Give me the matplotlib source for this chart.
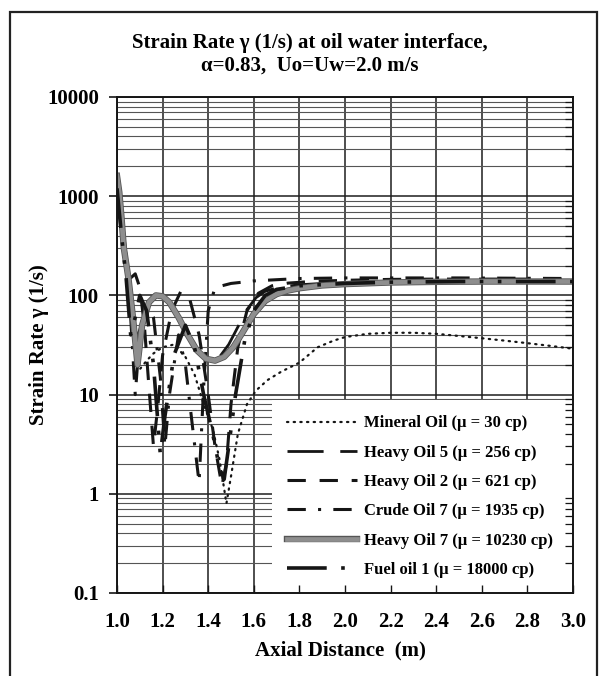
import matplotlib
matplotlib.use("Agg")
import matplotlib.pyplot as plt
import matplotlib.patheffects as pe
from matplotlib.patches import Rectangle
from matplotlib.ticker import LogLocator, FixedLocator, NullFormatter

SERIF = ["Liberation Serif", "DejaVu Serif"]
plt.rcParams["font.family"] = SERIF
plt.rcParams["font.weight"] = "bold"

# Mineral Oil (mu = 30 cp)
x_mineral = [1.0, 1.02, 1.04, 1.06, 1.08, 1.10, 1.13, 1.16, 1.20, 1.25, 1.30, 1.34,
             1.38, 1.42, 1.45, 1.48, 1.50, 1.53, 1.57, 1.61, 1.66, 1.72, 1.80, 1.88,
             1.95, 2.0, 2.1, 2.2, 2.3, 2.4, 2.5, 2.6, 2.7, 2.8, 2.9, 3.0]
y_mineral = [1300, 600, 200, 70, 30, 18, 22, 26, 30, 32, 24, 16,
             8, 4.5, 2.2, 0.8, 1.5, 4, 8, 11, 14, 17, 21, 30,
             35, 38, 41, 42, 42, 41, 39, 37, 35, 33, 31, 29]

# Heavy Oil 5 (mu = 256 cp)
x_ho5 = [1.0, 1.02, 1.04, 1.06, 1.08, 1.10, 1.13, 1.17, 1.21, 1.25, 1.29, 1.33,
         1.37, 1.41, 1.45, 1.49, 1.53, 1.57, 1.61, 1.65, 1.70, 1.75, 1.80, 1.9,
         2.0, 2.2, 2.4, 2.6, 2.8, 3.0]
y_ho5 = [1600, 700, 250, 90, 35, 45, 80, 102, 95, 72, 48, 33,
         25, 22, 24, 32, 48, 72, 95, 110, 119, 124, 128, 132,
         135, 138, 140, 140, 140, 140]

# Heavy Oil 2 (mu = 621 cp)
x_ho2 = [1.0, 1.02, 1.04, 1.06, 1.08, 1.10, 1.12, 1.14, 1.16, 1.18, 1.20, 1.24,
         1.28, 1.32, 1.36, 1.40, 1.43, 1.46, 1.48, 1.50, 1.53, 1.57, 1.62, 1.68,
         1.75, 1.85, 2.0, 2.2, 2.4, 2.6, 2.8, 3.0]
y_ho2 = [1400, 600, 220, 150, 165, 120, 50, 12, 3, 8, 25, 70,
         110, 90, 40, 10, 3, 1.2, 2, 8, 30, 70, 105, 125,
         133, 138, 142, 145, 146, 146, 146, 146]

# Crude Oil 7 (mu = 1935 cp)
x_crude = [1.0, 1.02, 1.04, 1.06, 1.08, 1.10, 1.13, 1.16, 1.19, 1.21, 1.23, 1.27,
           1.30, 1.33, 1.36, 1.38, 1.40, 1.43, 1.5, 1.6, 1.8, 2.0, 2.5, 3.0]
y_crude = [1500, 500, 200, 60, 10, 40, 80, 60, 15, 3, 10, 40,
           20, 5, 1.3, 12, 70, 120, 132, 140, 148, 150, 150, 148]

# Heavy Oil 7 (mu = 10230 cp)
x_ho7 = [1.0, 1.01, 1.02, 1.03, 1.05, 1.07, 1.09, 1.11, 1.14, 1.17, 1.20, 1.23,
         1.27, 1.31, 1.35, 1.39, 1.43, 1.47, 1.51, 1.55, 1.60, 1.65, 1.70, 1.75,
         1.80, 1.90, 2.0, 2.2, 2.4, 2.6, 2.8, 3.0]
y_ho7 = [1600, 1100, 600, 300, 150, 60, 20, 50, 85, 100, 98, 85,
         60, 40, 28, 23, 22, 24, 30, 42, 65, 88, 103, 112,
         118, 126, 130, 135, 137, 138, 138, 138]

# Fuel oil 1 (mu = 18000 cp)
x_fuel = [1.0, 1.02, 1.04, 1.06, 1.08, 1.10, 1.13, 1.16, 1.18, 1.19, 1.21, 1.25,
          1.30, 1.34, 1.38, 1.42, 1.45, 1.47, 1.49, 1.52, 1.56, 1.60, 1.65, 1.70,
          1.80, 2.0, 2.2, 2.5, 3.0]
y_fuel = [1200, 400, 150, 40, 60, 100, 70, 20, 5, 2.5, 6, 25,
          50, 30, 10, 4, 1.8, 1.4, 3, 10, 35, 70, 100, 115,
          125, 132, 136, 138, 138]

labels = ["Mineral Oil (\u03bc = 30 cp)",
          "Heavy Oil 5 (\u03bc = 256 cp)",
          "Heavy Oil 2 (\u03bc = 621 cp)",
          "Crude Oil 7 (\u03bc = 1935 cp)",
          "Heavy Oil 7 (\u03bc = 10230 cp)",
          "Fuel oil 1 (\u03bc = 18000 cp)"]

fig = plt.figure(figsize=(6.1, 6.76), dpi=100)
pos = [117 / 610, 1 - 593 / 676, 456 / 610, 496 / 676]
ax = fig.add_axes(pos)

ink = "#151515"
ax.plot(x_mineral, y_mineral, color=ink, lw=1.6, linestyle=(0, (0.6, 2.4)),
        dash_capstyle="round", label=labels[0])
ax.plot(x_ho5, y_ho5, color=ink, lw=2.0, linestyle=(0, (13, 6)), label=labels[1])
ax.plot(x_ho2, y_ho2, color=ink, lw=2.2, linestyle=(0, (6, 4.5)), label=labels[2])
ax.plot(x_crude, y_crude, color=ink, lw=2.2, linestyle=(0, (6, 4, 1, 4)),
        label=labels[3])
ax.plot(x_ho7, y_ho7, color="#8e8e8e", lw=3.4, label=labels[4],
        path_effects=[pe.Stroke(linewidth=4.6, foreground="#555555"), pe.Normal()])
ax.plot(x_fuel, y_fuel, color=ink, lw=2.6, linestyle=(0, (11, 4, 1, 4, 1, 4)),
        label=labels[5])

ax.set_yscale("log")
ax.set_xlim(1.0, 3.0)
ax.set_ylim(0.1, 10000)
xt = [1.0 + 0.2 * i for i in range(11)]
ax.xaxis.set_major_locator(FixedLocator(xt))
ax.set_xticklabels(["%.1f" % v for v in xt])
yt = [0.1, 1, 10, 100, 1000, 10000]
ax.yaxis.set_major_locator(FixedLocator(yt))
ax.set_yticklabels(["0.1", "1", "10", "100", "1000", "10000"])
ax.yaxis.set_minor_locator(LogLocator(base=10, subs=range(2, 10)))
ax.yaxis.set_minor_formatter(NullFormatter())
ax.tick_params(which="both", length=0)
ax.tick_params(axis="x", pad=14, labelsize=15)
ax.tick_params(axis="y", pad=13, labelsize=15)
ax.grid(which="major", axis="both", color="#1e1e1e", lw=1.1)
ax.grid(which="minor", axis="y", color="#555555", lw=0.8)
for s in ax.spines.values():
    s.set_visible(False)

ax.set_xlabel("Axial Distance  (m)", fontsize=15, fontweight="bold")
ax.set_ylabel("Strain Rate \u03b3 (1/s)", fontsize=15, fontweight="bold")
ax.xaxis.set_label_coords(0.49, -0.095)
ax.yaxis.set_label_coords(-0.15, 0.5)

leg = ax.legend(loc="lower left", bbox_to_anchor=(0.34, 0.0, 0.66, 0.38),
                mode="expand", fancybox=False, framealpha=1, facecolor="white",
                edgecolor="none", borderaxespad=0, handlelength=4.2,
                handletextpad=0.4, labelspacing=0.8, borderpad=0.9,
                prop={"family": SERIF, "weight": "bold", "size": 12})
leg.set_zorder(5)

# frame and tick marks drawn on top of the legend box
top = fig.add_axes(pos, zorder=10)
top.set_yscale("log")
top.set_xlim(1.0, 3.0)
top.set_ylim(0.1, 10000)
top.patch.set_visible(False)
top.xaxis.set_major_locator(FixedLocator(xt))
top.yaxis.set_major_locator(FixedLocator(yt))
top.yaxis.set_minor_locator(LogLocator(base=10, subs=range(2, 10)))
top.tick_params(labelleft=False, labelbottom=False)
top.tick_params(axis="x", which="major", direction="in", length=6, width=1, color=ink)
top.tick_params(axis="y", which="major", direction="out", length=6, width=1.2,
                left=True, right=False, color=ink)
top.tick_params(axis="y", which="minor", direction="in", length=6, width=0.9,
                left=False, right=True, color=ink)
for s in top.spines.values():
    s.set_color(ink)
    s.set_linewidth(1.4)

fig.text(0.508, 1 - 43 / 676, "Strain Rate \u03b3 (1/s) at oil water interface,",
         ha="center", va="center", fontsize=15, fontweight="bold")
fig.text(0.508, 1 - 66 / 676, "\u03b1=0.83,  Uo=Uw=2.0 m/s",
         ha="center", va="center", fontsize=15, fontweight="bold")

fig.patches.append(Rectangle((10 / 610, -0.05), 587 / 610, 1.05 - 12 / 676,
                             transform=fig.transFigure, fill=False,
                             edgecolor="#222222", lw=1.6))

fig.savefig("out.png", dpi=100)
